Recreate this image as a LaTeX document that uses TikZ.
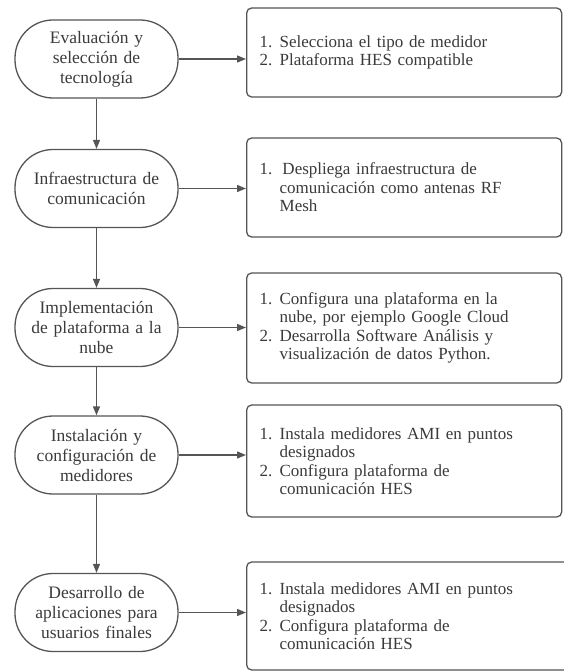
\documentclass[tikz,border=0pt]{standalone}
\usepackage{fontspec}
\setmainfont{Liberation Serif}
\usepackage{xcolor}
\usetikzlibrary{arrows.meta,positioning}
\definecolor{linea}{HTML}{555555}
\definecolor{texto}{HTML}{3A3A3A}
\newcommand{\etq}[1]{\makebox[20pt][l]{#1}}
\newcommand{\sangria}{\hspace*{20pt}}

\begin{document}
\begin{tikzpicture}[
  x=1pt, y=-1pt,
  paso/.style={rectangle, draw=linea, line width=1.3pt, rounded corners=38pt,
              minimum width=163pt, minimum height=78pt, text width=156pt, align=center,
              inner sep=0pt, text=texto, font=\fontsize{17.5}{20}\selectfont},
  lista/.style={rectangle, draw=linea, line width=1.3pt, rounded corners=5pt,
              minimum width=315pt, text width=289pt, inner xsep=13pt, align=left,
              anchor=west, text=texto, font=\fontsize{17}{18.5}\selectfont},
  arr/.style={-{Triangle[length=9pt,width=7pt]}, line width=1.3pt, linea}
]
\useasboundingbox (0,0) rectangle (563,671);
% etapas
\node[paso] (n1) at (96.5,59) {Evaluación y\\selección de\\tecnología};
\node[paso] (n2) at (96.5,188.5) {Infraestructura de\\comunicación};
\node[paso] (n3) at (96.5,327.5) {Implementación\\de plataforma a la\\nube};
\node[paso] (n4) at (96.5,455) {Instalación y\\configuración de\\medidores};
\node[paso] (n5) at (96.5,612.5) {Desarrollo de\\aplicaciones para\\usuarios finales};
% actividades
\node[lista, minimum height=89pt] (b1) at (246,52.5)
  {\etq{1.}Selecciona el tipo de medidor\\\etq{2.}Plataforma HES compatible};
\node[lista, minimum height=99pt] (b2) at (246,187.5)
  {\etq{1.}\,Despliega infraestructura de\\\sangria comunicación como antenas RF\\\sangria Mesh};
\node[lista, minimum height=110pt] (b3) at (246,328)
  {\etq{1.}Configura una plataforma en la\\\sangria nube, por ejemplo Google Cloud\\
   \etq{2.}Desarrolla Software Análisis y\\\sangria visualización de datos Python.};
\node[lista, minimum height=112pt] (b4) at (246,461)
  {\etq{1.}Instala medidores AMI en puntos\\\sangria designados\\
   \etq{2.}Configura plataforma de\\\sangria comunicación HES};
\node[lista, minimum height=108pt, minimum width=330pt, text width=304pt] (b5) at (246,616)
  {\etq{1.}Instala medidores AMI en puntos\\\sangria designados\\
   \etq{2.}Configura plataforma de\\\sangria comunicación HES};
% conexiones
\draw[arr] (n1) -- (n2);
\draw[arr] (n2) -- (n3);
\draw[arr] (n3) -- (n4);
\draw[arr] (n4) -- (n5);
\draw[arr] (n1.east) -- (n1 -| b1.west);
\draw[arr] (n2.east) -- (n2 -| b2.west);
\draw[arr] (n3.east) -- (n3 -| b3.west);
\draw[arr] (n4.east) -- (n4 -| b4.west);
\draw[arr] (n5.east) -- (n5 -| b5.west);
\end{tikzpicture}
\end{document}
